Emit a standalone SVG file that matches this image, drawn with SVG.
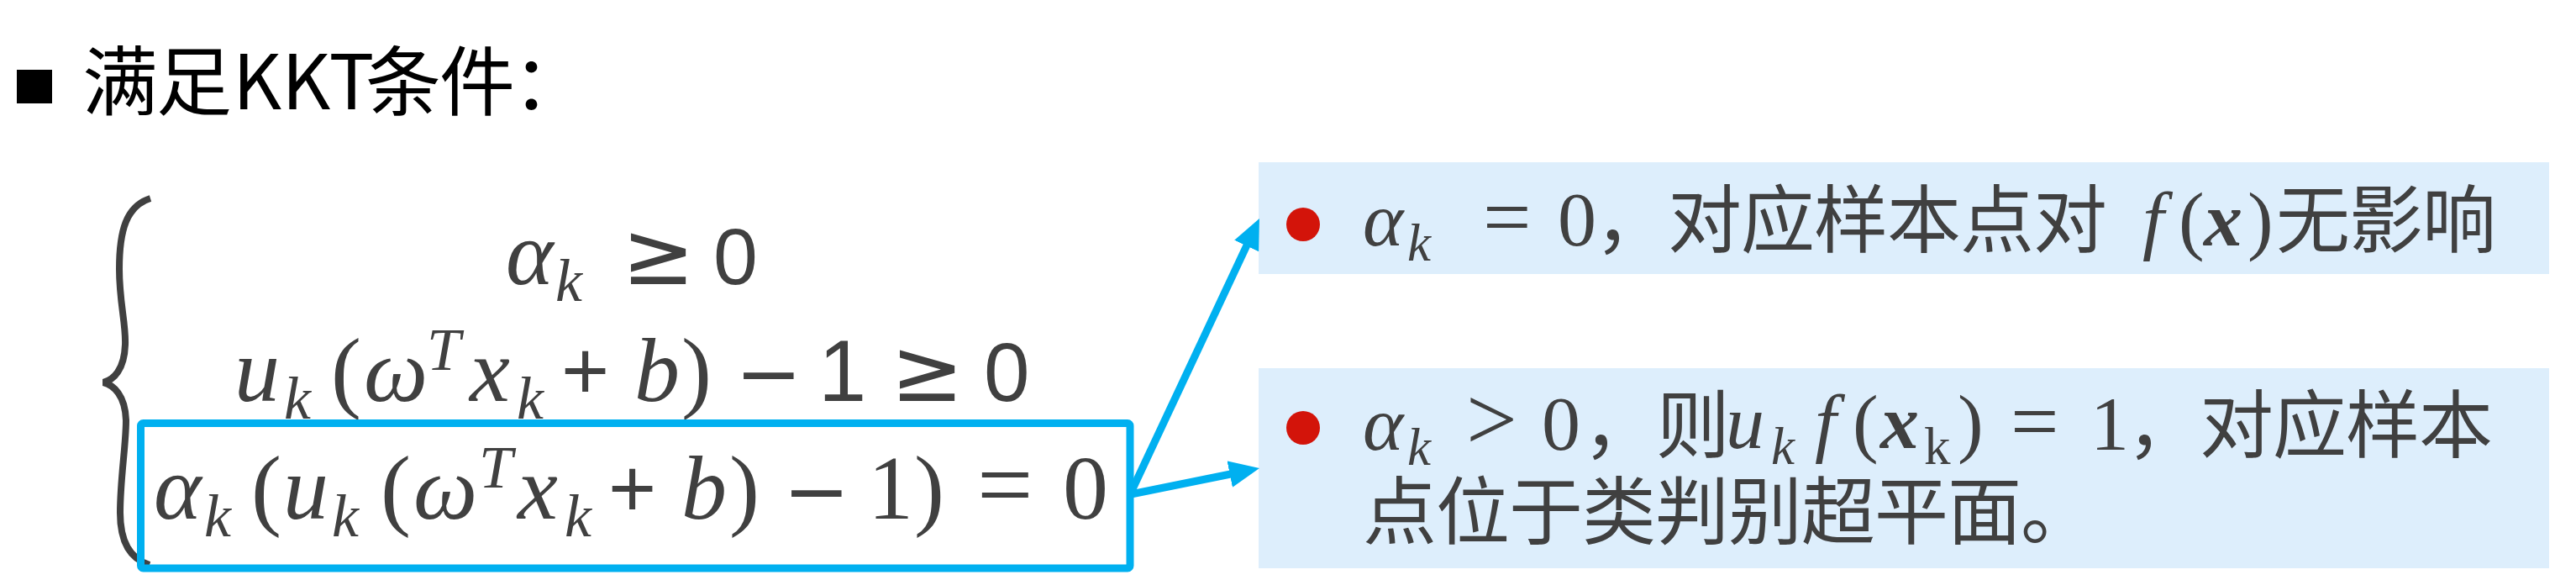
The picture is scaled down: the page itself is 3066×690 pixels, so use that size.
<svg xmlns="http://www.w3.org/2000/svg" width="3066" height="690" viewBox="0 0 3066 690">
<style>
.t{fill:#404040}
.cjk{font-family:"Noto Sans CJK SC","Noto Sans",sans-serif}
.mi{font-family:"Liberation Serif",serif;font-style:italic}
.mb{font-family:"Liberation Serif",serif;font-style:italic;font-weight:bold}
.mr{font-family:"Liberation Serif",serif;font-style:normal}
.ms{font-family:"Liberation Sans",sans-serif;font-style:normal}
.md{font-family:"DejaVu Sans",sans-serif;font-style:normal}
.L{font-size:108px}
.S{font-size:72px}
.B{font-size:92px}
.s{font-size:63px}
.c{font-size:88px;letter-spacing:-1px;font-style:normal}
.note{fill:#DDEEFC}
.dot{fill:#D3140A}
.conn{stroke:#00B0F0;stroke-width:9;fill:none}
</style>
<defs>
<marker id="ah" markerUnits="userSpaceOnUse" markerWidth="40" markerHeight="34" refX="6" refY="16" orient="auto">
<path d="M0,0 L36,16 L0,32 z" fill="#00B0F0"/>
</marker>
</defs>
<rect width="3066" height="690" fill="#FFFFFF"/>

<g id="title">
<rect x="20" y="83" width="42" height="40" fill="#000000"/>
<text class="cjk" font-size="90" fill="#000000" y="130"><tspan x="98">满</tspan><tspan x="186">足</tspan><tspan x="277">KKT</tspan><tspan x="435">条</tspan><tspan x="523">件</tspan><tspan x="610">：</tspan></text>
</g>

<g id="kkt-system">
<path d="M179,236 C150,245 142,275 142,320 C142,360 150,385 149,410 C148,440 135,452 123,455 C135,458 149,470 150,500 C150,530 143,570 143,610 C143,645 155,665 178,672" fill="none" stroke="#404040" stroke-width="8"/>
<text id="line1" class="t mi L" y="338"><tspan x="602" y="338">α</tspan><tspan class="S" x="661" y="358">k</tspan><tspan class="md" font-size="104" x="740" y="338">≥</tspan><tspan class="ms" font-size="95" x="849" y="338">0</tspan></text>
<text id="line2" class="t mi L" y="477"><tspan x="279" y="477">u</tspan><tspan class="S" x="338" y="498">k</tspan><tspan class="mr" x="394" y="477">(</tspan><tspan x="433" y="477">ω</tspan><tspan class="S" x="508" y="440">T</tspan><tspan x="559" y="477">x</tspan><tspan class="S" x="615" y="498">k</tspan><tspan class="ms" font-size="98" x="668" y="475">+</tspan><tspan x="755" y="477">b</tspan><tspan class="mr" x="811" y="477">)</tspan><tspan class="md" font-size="95" x="875" y="477">−</tspan><tspan class="ms" font-size="103" x="974" y="477">1</tspan><tspan class="md" font-size="104" x="1060" y="477">≥</tspan><tspan class="ms" font-size="98" x="1171" y="477">0</tspan></text>
</g>

<g id="highlight">
<rect x="167.5" y="503.5" width="1177.5" height="172.5" rx="3" fill="none" stroke="#00B0F0" stroke-width="9"/>
<text id="line3" class="t mi L" y="617"><tspan x="183" y="617">α</tspan><tspan class="S" x="243" y="638">k</tspan><tspan class="mr" x="299" y="617">(</tspan><tspan x="337" y="617">u</tspan><tspan class="S" x="395" y="638">k</tspan><tspan class="mr" x="453" y="617">(</tspan><tspan x="492" y="617">ω</tspan><tspan class="S" x="570" y="580">T</tspan><tspan x="616" y="617">x</tspan><tspan class="S" x="672" y="638">k</tspan><tspan class="ms" font-size="98" x="724" y="615">+</tspan><tspan x="811" y="617">b</tspan><tspan class="mr" x="868" y="617">)</tspan><tspan class="md" font-size="95" x="932" y="617">−</tspan><tspan class="mr" x="1033" y="617">1</tspan><tspan class="mr" x="1088" y="617">)</tspan><tspan class="mr" font-size="118" x="1163" y="617">=</tspan><tspan class="mr" x="1265" y="617">0</tspan></text>
</g>

<g id="note1">
<rect class="note" x="1498" y="193" width="1536" height="133"/>
<circle class="dot" cx="1551" cy="267" r="20"/>
<text class="t mi B" y="292"><tspan x="1622" y="292">α</tspan><tspan class="s" x="1675" y="310">k</tspan><tspan class="mr" font-size="102" x="1765" y="292">=</tspan><tspan class="mr" x="1854" y="292">0</tspan><tspan class="cjk c" x="1898" y="293">，对应样本点对</tspan><tspan x="2550" y="292">f</tspan><tspan class="mr" x="2593" y="292">(</tspan><tspan class="mb" x="2623" y="292">x</tspan><tspan class="mr" x="2675" y="292">)</tspan><tspan class="cjk c" x="2709" y="293">无影响</tspan></text>
</g>

<g id="note2">
<rect class="note" x="1498" y="438" width="1536" height="238"/>
<circle class="dot" cx="1551" cy="509" r="20"/>
<text class="t mi B" y="535"><tspan x="1622" y="535">α</tspan><tspan class="s" x="1675" y="553">k</tspan><tspan class="mr" font-size="108" x="1745" y="535">&gt;</tspan><tspan class="mr" x="1835" y="535">0</tspan><tspan class="cjk c" x="1884" y="537">，则</tspan><tspan x="2054" y="533">u</tspan><tspan class="s" x="2108" y="552">k</tspan><tspan x="2160" y="533">f</tspan><tspan class="mr" x="2205" y="533">(</tspan><tspan class="mb" x="2238" y="533">x</tspan><tspan class="mr s" x="2290" y="552">k</tspan><tspan class="mr" x="2330" y="533">)</tspan><tspan class="mr" font-size="102" x="2393" y="535">=</tspan><tspan class="mr" x="2488" y="535">1</tspan><tspan class="cjk c" x="2531" y="537">，对应样本</tspan></text>
<text class="t cjk c" x="1622" y="640">点位于类判别超平面。</text>
</g>

<g id="connectors">
<line class="conn" x1="1346" y1="586" x2="1486.2" y2="287.1" marker-end="url(#ah)"/>
<line class="conn" x1="1346" y1="588" x2="1469.6" y2="563" marker-end="url(#ah)"/>
</g>
</svg>
